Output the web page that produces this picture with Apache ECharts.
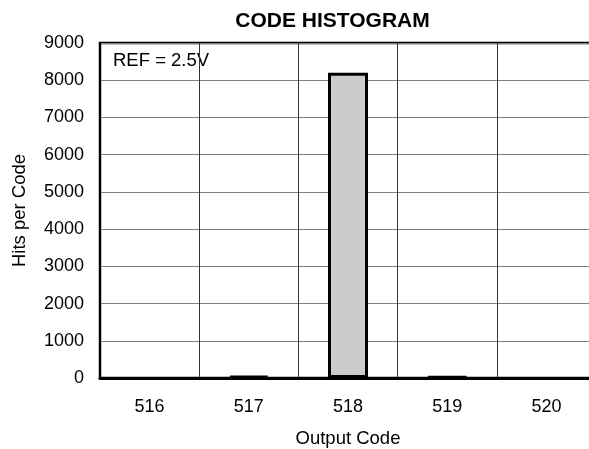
<!DOCTYPE html>
<html><head><meta charset="utf-8">
<script src="https://cdn.jsdelivr.net/npm/echarts@6/dist/echarts.min.js"></script>
<style>html,body{margin:0;padding:0;background:#fff}#c{width:589px;height:449px}</style>
</head><body><div id="c"></div>
<script>
const categories = ['516', '517', '518', '519', '520'];
const hits = [0, 60, 8200, 35, 0];
const yTicks = { min: 0, max: 9000, interval: 1000 };
const titleText = 'CODE HISTOGRAM';
const noteText = 'REF = 2.5V';
const xName = 'Output Code';
const yName = 'Hits per Code';

const font = 'Liberation Sans, Arial, Helvetica, sans-serif';
const chart = echarts.init(document.getElementById('c'), null, { renderer: 'canvas' });
const barData = hits.map(v => v === 0
  ? { value: v, itemStyle: { borderWidth: 0 } }
  : { value: v });
chart.setOption({
  animation: false,
  backgroundColor: '#fff',
  textStyle: { fontFamily: font },
  grid: { left: 100, top: 43, width: 496, height: 335, outerBoundsMode: 'none', containLabel: false, show: true, borderColor: '#000', borderWidth: 2.5, backgroundColor: 'transparent' },
  graphic: [
    { type: 'text', x: 332.5, y: 21, style: { text: titleText, font: 'bold 21px ' + font, fill: '#000', align: 'center', verticalAlign: 'middle' } },
    { type: 'text', x: 113, y: 60.5, style: { text: noteText, font: '18.5px ' + font, fill: '#000', align: 'left', verticalAlign: 'middle' } }
  ],
  xAxis: {
    type: 'category', data: categories, boundaryGap: true,
    name: xName, nameLocation: 'middle', nameGap: 51,
    nameTextStyle: { fontSize: 18.5, color: '#000', fontFamily: font },
    axisLine: { show: true, lineStyle: { color: '#000', width: 3 } },
    axisTick: { show: false },
    axisLabel: { color: '#000', fontSize: 18, margin: 20, fontFamily: font },
    splitLine: { show: true, interval: 0, lineStyle: { color: '#333', width: 1 } }
  },
  yAxis: {
    type: 'value', min: yTicks.min, max: yTicks.max, interval: yTicks.interval,
    name: yName, nameLocation: 'middle', nameGap: 71, nameRotate: 90,
    nameTextStyle: { fontSize: 18.5, color: '#000', fontFamily: font },
    axisLine: { show: true, lineStyle: { color: '#000', width: 2 } },
    axisTick: { show: false },
    axisLabel: { color: '#000', fontSize: 18, margin: 16, fontFamily: font, formatter: v => String(v) },
    splitLine: { show: true, lineStyle: { color: '#808080', width: 1 } }
  },
  series: [{
    type: 'bar', data: barData, barWidth: 40,
    itemStyle: { color: '#cccccc', borderColor: '#000', borderWidth: 3 }
  }]
});
</script></body></html>
